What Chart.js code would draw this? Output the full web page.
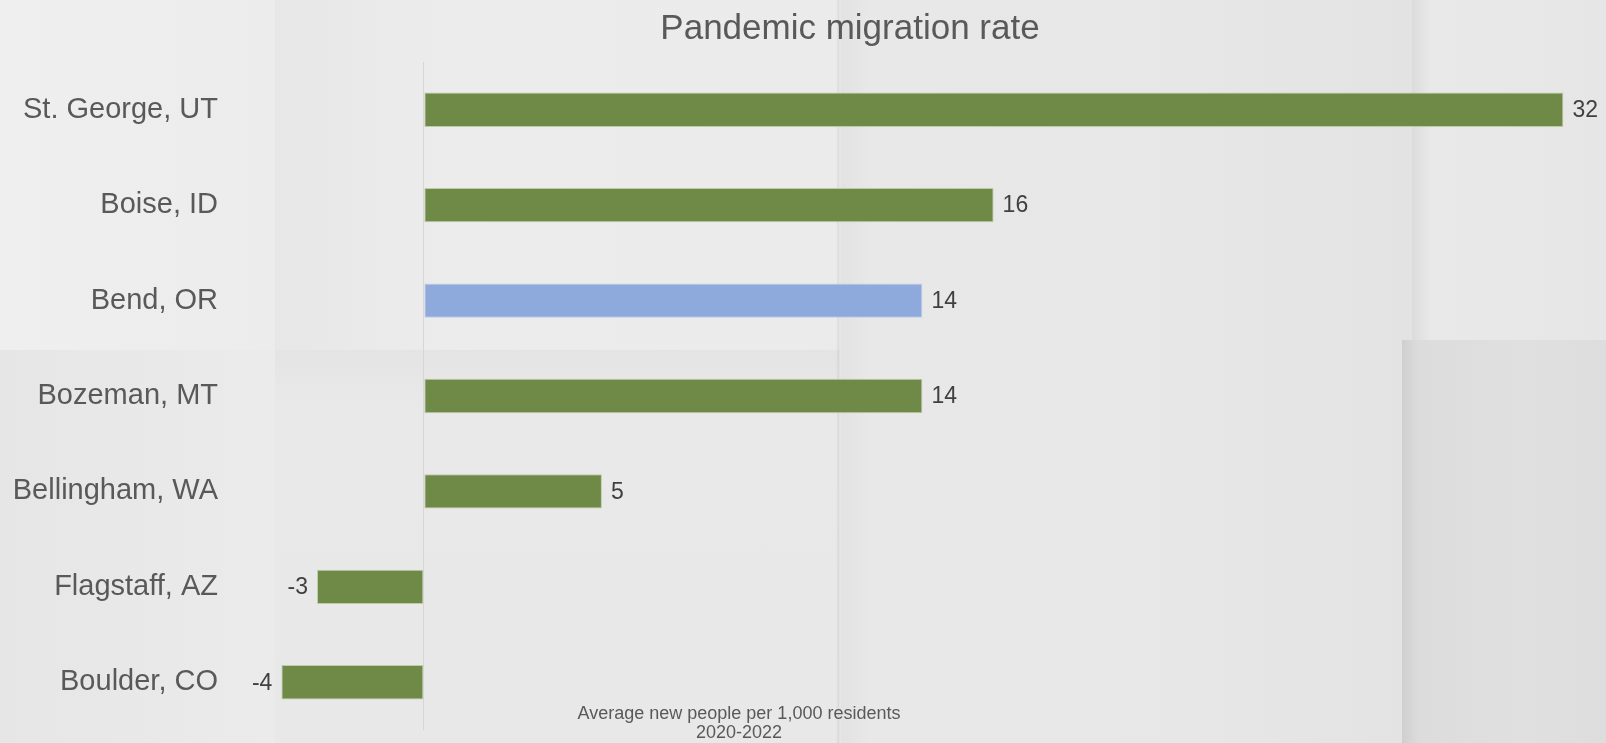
<!DOCTYPE html>
<html>
<head>
<meta charset="utf-8">
<script src="https://cdn.jsdelivr.net/npm/chart.js@4.4.0/dist/chart.umd.min.js"></script>
<style>
  html, body { margin: 0; padding: 0; width: 1606px; height: 743px; overflow: hidden; }
  body { position: relative; background: #e8e8e8; }
  .paper { position: absolute; }
  #chartWrap { position: absolute; left: 0; top: 0; width: 1606px; height: 743px; }
  canvas { display: block; }
</style>
</head>
<body>
<!-- folded paper backdrop -->
<div class="paper" style="left:0;top:0;width:275px;height:350px;background:linear-gradient(to right,#efefef,#ececec);"></div>
<div class="paper" style="left:0;top:350px;width:275px;height:393px;background:linear-gradient(to right,#e6e6e6,#ebebeb);"></div>
<div class="paper" style="left:275px;top:0;width:565px;height:350px;background:linear-gradient(to right,#e7e7e7,#ececec 30%,#ebebeb);"></div>
<div class="paper" style="left:275px;top:350px;width:565px;height:393px;background:linear-gradient(to bottom,#e4e4e4,#e9e9e9 15%,#e8e8e8);"></div>
<div class="paper" style="left:840px;top:0;width:572px;height:743px;background:linear-gradient(to right,#e2e2e2,#e8e8e8 5%,#e7e7e7 60%,#e3e3e3);"></div>
<div class="paper" style="left:836px;top:0;width:5px;height:743px;background:linear-gradient(to right,rgba(0,0,0,0),rgba(0,0,0,0.06),rgba(255,255,255,0.3));"></div>
<div class="paper" style="left:1412px;top:0;width:194px;height:340px;background:linear-gradient(to right,#dcdcdc,#e9e9e9 10%,#e6e6e6);"></div>
<div class="paper" style="left:1402px;top:340px;width:204px;height:403px;background:linear-gradient(to right,#cfcfcf,#dcdcdc 8%,#e0e0e0 60%,#dddddd);"></div>

<div id="chartWrap"><canvas id="migrationChart" width="1606" height="743"></canvas></div>

<script>
// Metro areas, top to bottom
const cities = ['St. George, UT', 'Boise, ID', 'Bend, OR', 'Bozeman, MT', 'Bellingham, WA', 'Flagstaff, AZ', 'Boulder, CO'];
// Average new people per 1,000 residents, 2020-2022
const migrationRate = [32, 16, 14, 14, 5, -3, -4];
// City drawn in the accent colour
const highlightCity = 'Bend, OR';

const chartTitle = 'Pandemic migration rate';
const axisTitleLines = ['Average new people per 1,000 residents', '2020-2022'];

const FONT = '"Liberation Sans", Arial, Helvetica, sans-serif';
const GREEN = '#6f8a46';
const BLUE = '#8ea9db';
const TEXT_GRAY = '#595959';
const LABEL_DARK = '#404040';

// Value labels at the end of each bar
const valueLabels = {
  id: 'valueLabels',
  afterDatasetsDraw(chart) {
    const { ctx } = chart;
    const meta = chart.getDatasetMeta(0);
    const values = chart.data.datasets[0].data;
    ctx.save();
    ctx.font = '23px ' + FONT;
    ctx.fillStyle = LABEL_DARK;
    ctx.textBaseline = 'middle';
    meta.data.forEach((bar, i) => {
      const v = values[i];
      const pos = v >= 0;
      ctx.textAlign = pos ? 'left' : 'right';
      ctx.fillText(String(v), bar.x + (pos ? 9 : -9), bar.y + 1);
    });
    ctx.restore();
  }
};

// Chart title and the two-line axis caption
const captions = {
  id: 'captions',
  afterDraw(chart) {
    const { ctx } = chart;
    ctx.save();
    ctx.fillStyle = TEXT_GRAY;
    ctx.textAlign = 'center';
    ctx.textBaseline = 'alphabetic';
    ctx.font = '35px ' + FONT;
    ctx.fillText(chartTitle, 850, 39);
    ctx.font = '18px ' + FONT;
    ctx.fillText(axisTitleLines[0], 739, 719);
    ctx.fillText(axisTitleLines[1], 739, 738);
    ctx.restore();
  }
};

new Chart(document.getElementById('migrationChart'), {
  type: 'bar',
  data: {
    labels: cities,
    datasets: [{
      data: migrationRate,
      backgroundColor: cities.map(c => c === highlightCity ? BLUE : GREEN),
      borderColor: cities.map(c => c === highlightCity ? 'rgba(190,205,235,0.9)' : 'rgba(185,200,160,0.9)'),
      borderWidth: 1,
      borderSkipped: false,
      categoryPercentage: 1,
      barPercentage: 0.36
    }]
  },
  options: {
    indexAxis: 'y',
    responsive: false,
    animation: false,
    devicePixelRatio: 1,
    layout: { padding: { top: 62, bottom: 13, right: 7, left: 0 } },
    plugins: {
      legend: { display: false },
      title: { display: false },
      tooltip: { enabled: false }
    },
    scales: {
      x: {
        min: -5.5,
        max: 33,
        border: { display: false },
        ticks: { display: false, stepSize: 1 },
        grid: {
          drawTicks: false,
          color: ctx => (ctx.tick && ctx.tick.value === 0) ? '#d6d6d6' : 'rgba(0,0,0,0)',
          lineWidth: 1
        },
        afterFit(scale) {
          scale.height = 0;
          scale.paddingLeft = scale.paddingRight = scale.paddingTop = scale.paddingBottom = 0;
        }
      },
      y: {
        border: { display: false },
        grid: { display: false, drawTicks: false },
        ticks: {
          color: TEXT_GRAY,
          font: { family: FONT, size: 29 },
          padding: 10,
          autoSkip: false
        },
        afterFit(scale) {
          scale.width = 228;
          scale.paddingLeft = scale.paddingRight = scale.paddingTop = scale.paddingBottom = 0;
        }
      }
    }
  },
  plugins: [valueLabels, captions]
});
</script>
</body>
</html>
